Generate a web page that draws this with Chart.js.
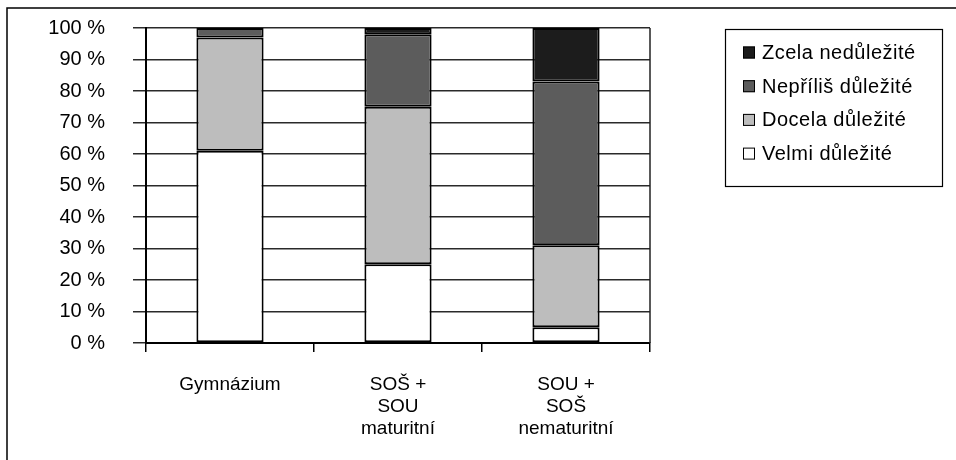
<!DOCTYPE html>
<html>
<head>
<meta charset="utf-8">
<script src="https://cdn.jsdelivr.net/npm/chart.js@4/dist/chart.umd.min.js"></script>
<style>
  html, body { margin: 0; padding: 0; background: #fff; }
  #wrap { width: 956px; height: 460px; position: relative; }
</style>
</head>
<body>
<div id="wrap"><canvas id="c" width="956" height="460"></canvas></div>
<script>
// School types (multi-line category labels)
const categories = [
  ['Gymnázium'],
  ['SOŠ +', 'SOU', 'maturitní'],
  ['SOU +', 'SOŠ', 'nematuritní']
];

// Share of answers per school type, in percent
const velmiDulezite    = [61, 25, 5];
const docelaDulezite   = [36, 50, 26];
const neprilisDulezite = [3, 23, 52];
const zcelaNedulezite  = [0, 2, 17];

const seriesNames = ['Velmi důležité', 'Docela důležité', 'Nepříliš důležité', 'Zcela nedůležité'];
const yTickValues = [0, 10, 20, 30, 40, 50, 60, 70, 80, 90, 100];

const FONT = 'Liberation Sans, Arial, sans-serif';
const fills = ['#ffffff', '#bdbdbd', '#5c5c5c', '#1c1c1c'];

const seriesValues = [velmiDulezite, docelaDulezite, neprilisDulezite, zcelaNedulezite];

const datasets = seriesValues.map((vals, i) => ({
  label: seriesNames[i],
  data: vals,
  backgroundColor: fills[i],
  borderColor: '#000',
  borderWidth: 2,
  borderSkipped: false,
  barPercentage: 0.4,
  categoryPercentage: 1.0
}));

// Outer frame, plot-area edge and boxed legend
const framePlugin = {
  id: 'frame',
  beforeDraw(chart) {
    const ctx = chart.ctx;
    ctx.save();
    ctx.fillStyle = '#fff';
    ctx.fillRect(0, 0, chart.width, chart.height);
    ctx.restore();
  },
  afterDraw(chart) {
    const ctx = chart.ctx;
    const a = chart.chartArea;
    ctx.save();
    // outer frame (top and left)
    ctx.strokeStyle = '#000';
    ctx.lineWidth = 1.5;
    ctx.beginPath();
    ctx.moveTo(7, chart.height);
    ctx.lineTo(7, 8);
    ctx.lineTo(chart.width, 8);
    ctx.stroke();
    // right edge of plot area
    ctx.strokeStyle = '#222';
    ctx.lineWidth = 1.5;
    ctx.beginPath();
    ctx.moveTo(a.right, a.top);
    ctx.lineTo(a.right, a.bottom);
    ctx.stroke();

    // legend box
    const lx = 725, ly = 29, lw = 217, lh = 157;
    ctx.fillStyle = '#fff';
    ctx.fillRect(lx, ly, lw, lh);
    ctx.strokeStyle = '#000';
    ctx.lineWidth = 1.2;
    ctx.strokeRect(lx + 0.5, ly + 0.5, lw, lh);

    ctx.font = '20px ' + FONT;
    if ('letterSpacing' in ctx) ctx.letterSpacing = '0.5px';
    ctx.textBaseline = 'middle';
    ctx.textAlign = 'left';
    const ds = chart.data.datasets.slice().reverse();
    ds.forEach((d, i) => {
      const cy = 52.5 + i * 33.7;
      ctx.fillStyle = d.backgroundColor;
      ctx.fillRect(743, cy - 6, 12, 12);
      ctx.strokeStyle = '#000';
      ctx.lineWidth = 1;
      ctx.strokeRect(743.5, cy - 5.5, 11, 11);
      ctx.fillStyle = '#000';
      ctx.fillText(d.label, 762, cy + 1);
    });
    ctx.restore();
  }
};

new Chart(document.getElementById('c'), {
  type: 'bar',
  data: { labels: categories, datasets },
  plugins: [framePlugin],
  options: {
    responsive: false,
    animation: false,
    devicePixelRatio: 1,
    layout: { padding: { left: 0, top: 28, right: 306, bottom: 0 } },
    plugins: {
      legend: { display: false },
      tooltip: { enabled: false }
    },
    scales: {
      x: {
        stacked: true,
        offset: true,
        afterFit(scale) { scale.height = 117; },
        grid: {
          display: true,
          offset: true,
          drawOnChartArea: false,
          color: '#000',
          lineWidth: 1.5,
          tickLength: 9
        },
        border: { display: true, color: '#000', width: 2 },
        ticks: {
          color: '#000',
          padding: 22,
          maxRotation: 0,
          autoSkip: false,
          font: { family: FONT, size: 19, lineHeight: 1.15 }
        }
      },
      y: {
        stacked: true,
        min: 0,
        max: 100,
        afterFit(scale) {
          scale.width = 146;
          scale.paddingTop = 0;
          scale.paddingBottom = 0;
        },
        afterBuildTicks(scale) { scale.ticks = yTickValues.map(v => ({ value: v })); },
        grid: {
          color: '#2a2a2a',
          lineWidth: 1.5,
          tickLength: 13
        },
        border: { display: true, color: '#000', width: 2 },
        ticks: {
          color: '#000',
          padding: 28,
          font: { family: FONT, size: 20 },
          callback: v => v + ' %'
        }
      }
    }
  }
});
</script>
</body>
</html>
